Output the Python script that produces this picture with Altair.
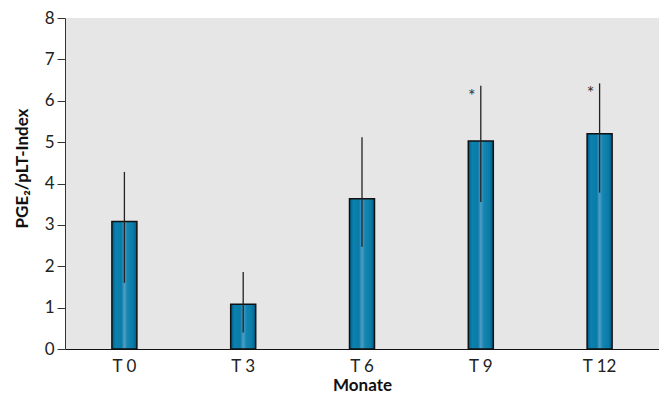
import altair as alt
import pandas as pd

categories = ["T 0", "T 3", "T 6", "T 9", "T 12"]
means = [3.08, 1.08, 3.63, 5.03, 5.2]
err_hi = [4.28, 1.86, 5.12, 6.36, 6.42]
err_lo = [1.6, 0.4, 2.47, 3.55, 3.78]
signif = ["", "", "", "*", "*"]

df = pd.DataFrame({"cat": categories, "mean": means, "hi": err_hi, "lo": err_lo, "sig": signif})

FONT = "Lato"

x_enc = alt.X("cat:N", sort=categories, scale=alt.Scale(paddingInner=0, paddingOuter=0),
              axis=alt.Axis(title="Monate", labelAngle=0, ticks=False, labelFontSize=17,
                            labelPadding=9, titleFontSize=17, titleFontWeight="bold",
                            titlePadding=3, domainColor="#111", labelColor="#222",
                            titleColor="#111", labelFont=FONT, titleFont=FONT))
y_scale = alt.Scale(domain=[0, 8], nice=False)

grad = alt.Gradient(
    gradient="linear", x1=0, x2=1, y1=0, y2=0,
    stops=[
        alt.GradientStop(color="#005a84", offset=0),
        alt.GradientStop(color="#0a82b0", offset=0.15),
        alt.GradientStop(color="#0b7aa6", offset=0.38),
        alt.GradientStop(color="#4d9ec4", offset=0.5),
        alt.GradientStop(color="#1585b1", offset=0.62),
        alt.GradientStop(color="#0a7aa6", offset=0.85),
        alt.GradientStop(color="#005a84", offset=1),
    ],
)

bars = alt.Chart(df).mark_bar(size=25, fill=grad, stroke="#111", strokeWidth=1.5).encode(
    x=x_enc,
    y=alt.Y("mean:Q", scale=y_scale,
            axis=alt.Axis(title="PGE₂/pLT-Index", values=list(range(9)), tickSize=8,
                          labelFontSize=17, labelPadding=3, titleFontSize=17,
                          titleFontWeight="bold", titlePadding=13, grid=False,
                          domainColor="#333", tickColor="#333", labelColor="#222",
                          titleColor="#111", labelFont=FONT, titleFont=FONT, titleY=150)),
)

errs = alt.Chart(df).mark_rule(color="#222", strokeWidth=1.3).encode(
    x=alt.X("cat:N", sort=categories), y="lo:Q", y2="hi:Q"
)

stars = alt.Chart(df).mark_text(fontSize=18, dx=-9, dy=11, color="#333", font=FONT).encode(
    x=alt.X("cat:N", sort=categories), y="hi:Q", text="sig:N"
)

chart = alt.layer(bars, errs, stars).properties(
    width=594, height=331,
    autosize=alt.AutoSizeParams(type="none"),
    padding={"left": 57, "top": 10, "right": 0, "bottom": 50},
).configure_view(fill="#e6e6e6", stroke=None)

chart.save("out.html", embed_options={"renderer": "svg", "actions": False})
